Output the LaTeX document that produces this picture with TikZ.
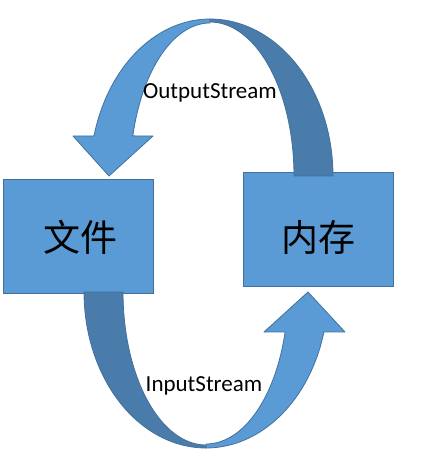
\documentclass[tikz,border=0pt]{standalone}
\usepackage{fontspec}
\setmainfont{Carlito}
\newfontfamily\cjk{Noto Sans CJK SC}
\definecolor{boxfill}{HTML}{5B9BD5}
\definecolor{boxline}{HTML}{41719C}
\definecolor{bandfill}{HTML}{497CAA}
\begin{document}
\begin{tikzpicture}[x=1pt,y=-1pt,
  boxstyle/.style={draw=boxline,fill=boxfill,line width=0.8pt},
  lightband/.style={draw=boxline,fill=boxfill,line width=0.8pt,line join=round},
  darkband/.style={draw=boxline,fill=bandfill,line width=0.8pt,line join=round},
  lbl/.style={font=\fontsize{23}{27}\selectfont,inner sep=0pt,anchor=base},
  cjklbl/.style={font=\cjk\fontsize{37}{40}\selectfont,inner sep=0pt}]
\useasboundingbox (0,0) rectangle (425,470);
% boxes
\node[boxstyle,minimum width=150pt,minimum height=114pt,inner sep=0pt] (file) at (78,236) {};
\node[boxstyle,minimum width=150pt,minimum height=114pt,inner sep=0pt] (mem) at (318,229) {};
% top curved arrow (OutputStream): dark back band
\path[darkband] plot[domain=0:90,samples=40] ({210+123*cos(\x)},{176-157*sin(\x)})
  -- plot[domain=90:0,samples=40] ({210+84*cos(\x)},{176-154*sin(\x)}) -- cycle;
% light front band with head
\path[lightband] plot[domain=90:165.2,samples=40] ({210+120*cos(\x)},{176-157*sin(\x)})
  -- (73,136) -- (109,176) -- (153,136)
  -- plot[domain=164.8:90,samples=40] ({210+80*cos(\x)},{176-153*sin(\x)}) -- cycle;
% bottom curved arrow (InputStream): dark back band
\path[darkband] plot[domain=180:270,samples=40] ({206+122*cos(\x)},{292-156*sin(\x)})
  -- plot[domain=270:180,samples=40] ({206+83*cos(\x)},{292-153*sin(\x)}) -- cycle;
% light front band with head
\path[lightband] plot[domain=270:345.15,samples=40] ({206+122*cos(\x)},{292-156*sin(\x)})
  -- (345,332) -- (308,292) -- (264,332)
  -- plot[domain=344.75:270,samples=40] ({206+82*cos(\x)},{292-152*sin(\x)}) -- cycle;
% labels
\node[lbl] (out) at (210,99) {OutputStream};
\node[lbl] (in) at (204,391) {InputStream};
\node[cjklbl] (filetxt) at (80,237) {文件};
\node[cjklbl] (memtxt) at (318,237) {内存};
\end{tikzpicture}
\end{document}
